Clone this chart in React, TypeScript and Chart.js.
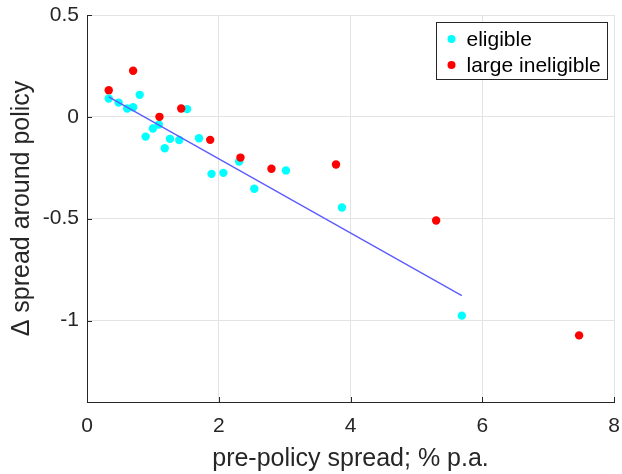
import React, { useEffect, useRef } from "react";
import { Chart, registerables } from "chart.js";

Chart.register(...registerables);

const eligibleX = [0.33, 0.48, 0.61, 0.70, 0.80, 0.89, 1.00, 1.09, 1.18, 1.26, 1.40, 1.52, 1.70, 1.89, 2.07, 2.31, 2.54, 3.02, 3.87, 5.69];
const eligibleY = [0.090, 0.070, 0.041, 0.047, 0.108, -0.097, -0.057, -0.038, -0.154, -0.108, -0.114, 0.038, -0.105, -0.280, -0.275, -0.219, -0.353, -0.263, -0.445, -0.976];
const ineligibleX = [0.33, 0.70, 1.10, 1.43, 1.87, 2.33, 2.80, 3.78, 5.30, 7.47];
const ineligibleY = [0.131, 0.226, 0.000, 0.041, -0.113, -0.200, -0.255, -0.234, -0.509, -1.073];
const fitX = [0.33, 5.69];
const fitY = [0.098, -0.878];
const xTicks = [0, 2, 4, 6, 8];
const yTicks = [-1, -0.5, 0, 0.5];
const seriesLabels = ["eligible", "large ineligible"];

const FONT = "'Liberation Sans', Arial, Helvetica, sans-serif";
const INK = "#262626";

const inwardTicks = {
  id: "inwardTicks",
  afterDatasetsDraw(chart: any) {
    const { ctx, chartArea, scales } = chart;
    ctx.save();
    ctx.strokeStyle = INK;
    ctx.lineWidth = 1;
    ctx.beginPath();
    for (const v of xTicks) {
      const px = Math.round(scales.x.getPixelForValue(v)) + 0.5;
      ctx.moveTo(px, chartArea.bottom);
      ctx.lineTo(px, chartArea.bottom - 5);
    }
    for (const v of yTicks) {
      const py = Math.round(scales.y.getPixelForValue(v)) + 0.5;
      ctx.moveTo(chartArea.left, py);
      ctx.lineTo(chartArea.left + 5, py);
    }
    ctx.stroke();
    ctx.restore();
  },
};

const boxLegend = {
  id: "boxLegend",
  afterDraw(chart: any) {
    const { ctx } = chart;
    const items = seriesLabels
      .map((l) => chart.data.datasets.find((d: any) => d.inLegend && d.label === l))
      .filter(Boolean);
    const x0 = 436.5, y0 = 22.5, w = 171, h = 57;
    ctx.save();
    ctx.fillStyle = "#ffffff";
    ctx.fillRect(x0, y0, w, h);
    ctx.strokeStyle = INK;
    ctx.lineWidth = 1;
    ctx.strokeRect(x0, y0, w, h);
    ctx.font = `21px ${FONT}`;
    ctx.textBaseline = "middle";
    items.forEach((d: any, i: number) => {
      const cy = y0 + 16.5 + i * 26;
      ctx.fillStyle = d.backgroundColor;
      ctx.beginPath();
      ctx.arc(x0 + 15, cy, 4, 0, Math.PI * 2);
      ctx.fill();
      ctx.fillStyle = "#000000";
      ctx.fillText(d.label, x0 + 30, cy + 1);
    });
    ctx.restore();
  },
};

export default function App() {
  const ref = useRef<HTMLCanvasElement | null>(null);
  useEffect(() => {
    if (!ref.current) return;
    const chart = new Chart(ref.current, {
      type: "scatter",
      data: {
        datasets: [
          {
            type: "line",
            label: "fit",
            data: fitX.map((x, i) => ({ x, y: fitY[i] })),
            borderColor: "#5a5aff",
            borderWidth: 1.3,
            pointRadius: 0,
            fill: false,
            order: 0,
          } as any,
          {
            label: seriesLabels[1],
            data: ineligibleX.map((x, i) => ({ x, y: ineligibleY[i] })),
            backgroundColor: "#ff0000",
            borderWidth: 0,
            pointRadius: 4.2,
            inLegend: true,
            order: 1,
          } as any,
          {
            label: seriesLabels[0],
            data: eligibleX.map((x, i) => ({ x, y: eligibleY[i] })),
            backgroundColor: "#00ffff",
            borderWidth: 0,
            pointRadius: 4.2,
            inLegend: true,
            order: 2,
          } as any,
        ],
      },
      options: {
        animation: false,
        responsive: false,
        layout: { padding: { left: 0, right: 8, top: 15, bottom: 0 } },
        plugins: { legend: { display: false }, tooltip: { enabled: false } },
        scales: {
          x: {
            type: "linear",
            min: 0,
            max: 8,
            afterBuildTicks: (s: any) => { s.ticks = xTicks.map((v) => ({ value: v })); },
            afterFit: (s: any) => { s.height = 72; s.paddingLeft = 0; s.paddingRight = 0; },
            grid: { color: "#e3e3e3", drawTicks: false },
            border: { color: INK, width: 1 },
            ticks: { color: INK, font: { family: FONT, size: 21 }, padding: 12, maxRotation: 0, callback: (v: any) => String(v) },
            title: { display: true, text: "pre-policy spread; % p.a.", color: INK, font: { family: FONT, size: 25 }, padding: { top: 0, bottom: 0 } },
          },
          y: {
            type: "linear",
            min: -1.4,
            max: 0.5,
            afterBuildTicks: (s: any) => { s.ticks = yTicks.map((v) => ({ value: v })); },
            afterFit: (s: any) => { s.width = 87; s.paddingTop = 0; s.paddingBottom = 0; },
            grid: { color: "#e3e3e3", drawTicks: false },
            border: { color: INK, width: 1 },
            ticks: { color: INK, font: { family: FONT, size: 21 }, padding: 8, callback: (v: any) => String(v) },
            title: { display: true, text: "Δ spread around policy", color: INK, font: { family: FONT, size: 25 }, padding: { top: 7, bottom: 0 } },
          },
        },
      },
      plugins: [inwardTicks, boxLegend],
    } as any);
    return () => chart.destroy();
  }, []);
  return (
    <div style={{ position: "fixed", left: 0, top: 0, width: 622, height: 474, background: "#fff" }}>
      <canvas ref={ref} width={622} height={474} style={{ display: "block" }} />
    </div>
  );
}
